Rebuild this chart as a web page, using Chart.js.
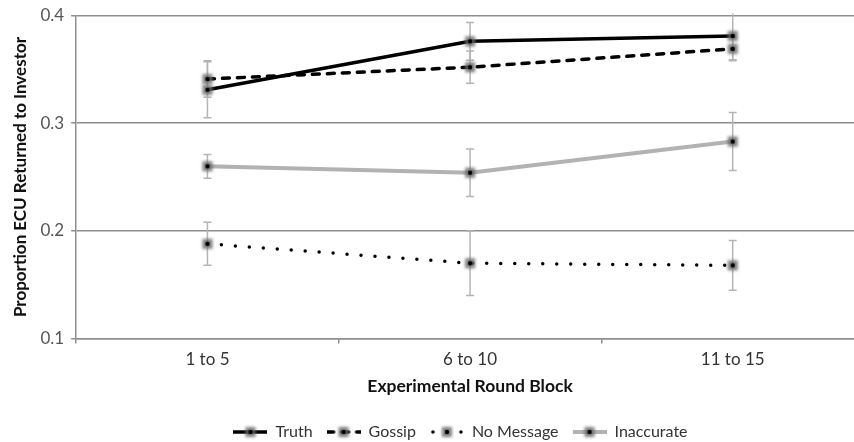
<!DOCTYPE html>
<html>
<head>
<meta charset="utf-8">
<script src="https://cdn.jsdelivr.net/npm/chart.js@4.4.1/dist/chart.umd.min.js"></script>
<style>
    html, body { margin: 0; padding: 0; background: #fff; overflow: hidden; }
    #wrap { position: relative; width: 875px; height: 442px; }
</style>
</head>
<body>
<div id="wrap"><canvas id="chart"></canvas></div>
<script>
// data
const blocks = ['1 to 5', '6 to 10', '11 to 15'];
const truth = [0.331, 0.376, 0.381];
const truthErr = [0.026, 0.0175, 0.022];
const gossip = [0.341, 0.352, 0.369];
const gossipErr = [0.017, 0.015, 0.011];
const noMessage = [0.188, 0.170, 0.168];
const noMessageErr = [0.020, 0.030, 0.023];
const inaccurate = [0.260, 0.254, 0.283];
const inaccurateErr = [0.011, 0.022, 0.027];
const yTicks = [0.1, 0.2, 0.3, 0.4];

const FONT = 'Lato, "Noto Sans", sans-serif';
const AXIS_GRAY = '#8e8e8e';

// blurred grey square with a black dot, like the original markers
const makeMarker = () => {
    const c = document.createElement('canvas');
    c.width = 18; c.height = 18;
    const g = c.getContext('2d');
    g.filter = 'blur(1.6px)';
    g.fillStyle = 'rgba(105,105,105,0.85)';
    g.fillRect(4, 4, 10, 10);
    g.filter = 'none';
    g.fillStyle = '#000';
    g.beginPath();
    g.arc(9, 9, 2.2, 0, Math.PI * 2);
    g.fill();
    return c;
};
const marker = makeMarker();

const lineStyles = [
    { color: '#000', width: 3.5, dash: [], cap: 'butt' },
    { color: '#000', width: 3.5, dash: [7, 8], cap: 'round' },
    { color: '#000', width: 3.5, dash: [0, 14], cap: 'round' },
    { color: '#b2b2b2', width: 4, dash: [], cap: 'butt' }
];

// legend icon: a short bit of the line with the marker on it
const makeLegendIcon = (st) => {
    const c = document.createElement('canvas');
    c.width = 34; c.height = 18;
    const g = c.getContext('2d');
    g.strokeStyle = st.color;
    g.lineWidth = st.width;
    g.lineCap = st.cap;
    g.setLineDash(st.dash);
    g.beginPath();
    if (st.dash.length && st.dash[0] === 0) {
        g.moveTo(3, 9); g.lineTo(33, 9);
    } else {
        g.moveTo(0, 9); g.lineTo(34, 9);
    }
    g.stroke();
    g.drawImage(marker, 8, 0);
    return c;
};
const legendIcons = lineStyles.map(makeLegendIcon);

const errors = [truthErr, gossipErr, noMessageErr, inaccurateErr];

const errorBars = {
    id: 'errorBars',
    beforeDatasetsDraw(chart) {
        const { ctx, chartArea, scales: { x, y } } = chart;
        ctx.save();
        ctx.beginPath();
        ctx.rect(chartArea.left, chartArea.top - 2, chartArea.right - chartArea.left, chartArea.bottom - chartArea.top + 2);
        ctx.clip();
        ctx.strokeStyle = '#b4b4b4';
        ctx.lineWidth = 1.5;
        chart.data.datasets.forEach((ds, i) => {
            ds.data.forEach((v, j) => {
                const px = x.getPixelForValue(j);
                const top = y.getPixelForValue(v + errors[i][j]);
                const bot = y.getPixelForValue(v - errors[i][j]);
                ctx.beginPath();
                ctx.moveTo(px, top); ctx.lineTo(px, bot);
                ctx.moveTo(px - 4, top); ctx.lineTo(px + 4, top);
                ctx.moveTo(px - 4, bot); ctx.lineTo(px + 4, bot);
                ctx.stroke();
            });
        });
        ctx.restore();
    }
};

// the source figure is wider than the crop; nudge the legend to where it sits
const legendShift = {
    id: 'legendShift',
    afterLayout(chart) {
        const lg = chart.legend;
        if (!lg) return;
        lg.left += 24;
        lg.right += 24;
        lg.top += 8;
        lg.bottom += 8;
    }
};

const makeDs = (label, data, i) => ({
    label,
    data,
    borderColor: lineStyles[i].color,
    borderWidth: lineStyles[i].width,
    borderDash: lineStyles[i].dash,
    borderCapStyle: lineStyles[i].cap,
    pointStyle: marker,
    pointRadius: 7,
    pointHoverRadius: 7,
    tension: 0,
    fill: false
});

new Chart(document.getElementById('chart').getContext('2d'), {
    type: 'line',
    data: {
        labels: blocks,
        datasets: [
            makeDs('Truth', truth, 0),
            makeDs('Gossip', gossip, 1),
            makeDs('No Message', noMessage, 2),
            makeDs('Inaccurate', inaccurate, 3)
        ]
    },
    options: {
        responsive: true,
        maintainAspectRatio: false,
        animation: false,
        layout: { padding: { top: 0, right: 2, bottom: 0, left: 0 } },
        plugins: {
            tooltip: { enabled: false },
            legend: {
                position: 'bottom',
                labels: {
                    usePointStyle: true,
                    pointStyleWidth: 34,
                    padding: 14,
                    color: '#333',
                    font: { family: FONT, size: 16 },
                    generateLabels: (chart) => chart.data.datasets.map((ds, i) => ({
                        text: ds.label,
                        pointStyle: legendIcons[i],
                        datasetIndex: i,
                        fillStyle: 'transparent',
                        strokeStyle: 'transparent',
                        lineWidth: 0,
                        hidden: false,
                        fontColor: '#333'
                    }))
                }
            }
        },
        scales: {
            x: {
                offset: true,
                grid: { drawOnChartArea: false, color: AXIS_GRAY, lineWidth: 1.5, tickLength: 5, offset: true },
                border: { color: AXIS_GRAY, width: 1.5 },
                ticks: { color: '#333', font: { family: FONT, size: 17 }, padding: 6 },
                title: {
                    display: true,
                    text: 'Experimental Round Block',
                    color: '#111',
                    font: { family: FONT, size: 17.5, weight: 'bold' },
                    padding: { top: 0, bottom: 5 }
                }
            },
            y: {
                min: 0.1,
                max: 0.4,
                afterBuildTicks: (axis) => { axis.ticks = yTicks.map(v => ({ value: v })); },
                grid: { color: AXIS_GRAY, lineWidth: 1.5, tickLength: 5 },
                border: { color: AXIS_GRAY, width: 1.5 },
                ticks: {
                    color: '#555',
                    font: { family: FONT, size: 17, lineHeight: 1 },
                    padding: 7,
                    callback: (v) => Number(v).toFixed(1)
                },
                title: {
                    display: true,
                    text: 'Proportion ECU Returned to Investor',
                    color: '#111',
                    font: { family: FONT, size: 17, weight: 'bold' },
                    padding: { top: 10, bottom: 3 }
                }
            }
        }
    },
    plugins: [errorBars, legendShift]
});
</script>
</body>
</html>
